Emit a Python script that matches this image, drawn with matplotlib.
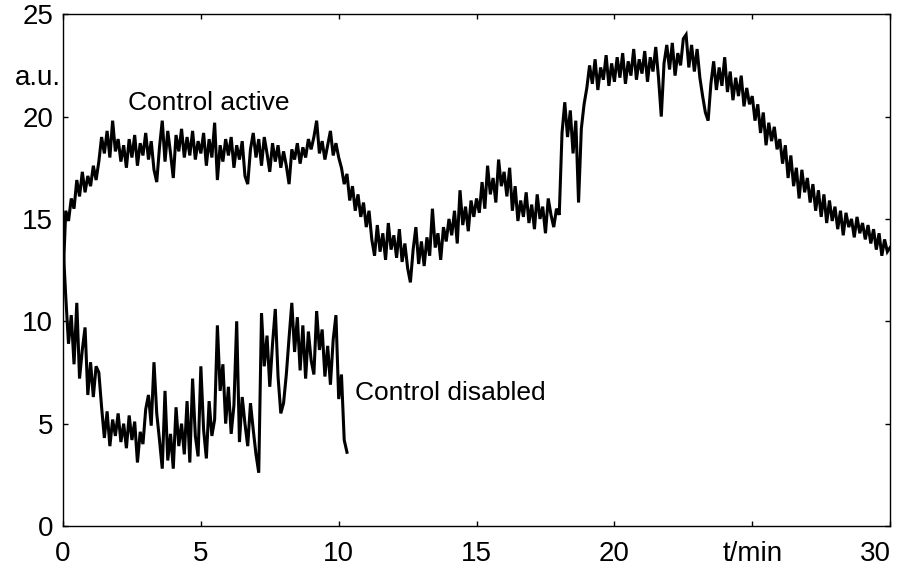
import numpy as np
import matplotlib
matplotlib.use("Agg")
import matplotlib.pyplot as plt
from matplotlib.transforms import blended_transform_factory, ScaledTranslation

# readings, one sample every 0.1 min
active_step = 0.1
active_vals = [
    12.0, 15.4, 14.9, 16.0, 15.5, 16.9, 16.1, 17.3, 16.3, 17.1,
    16.6, 17.6, 16.9, 17.8, 19.0, 18.2, 19.3, 18.0, 19.8, 18.3,
    18.9, 17.8, 18.6, 17.5, 18.9, 18.0, 19.1, 17.6, 18.7, 18.1,
    19.2, 17.9, 18.8, 17.4, 16.8, 18.5, 19.8, 17.8, 19.3, 18.2,
    17.0, 19.1, 18.3, 19.4, 18.0, 19.0, 18.1, 19.3, 17.9, 18.8,
    18.2, 19.2, 17.6, 18.9, 18.0, 19.7, 16.9, 18.6, 17.8, 18.9,
    18.1, 19.0, 17.5, 18.6, 17.9, 18.8, 17.1, 16.7, 18.4, 19.2,
    18.0, 18.9, 17.6, 19.0, 18.2, 17.3, 18.7, 17.8, 18.6, 17.5,
    18.3, 17.6, 16.7, 18.4, 17.9, 18.7, 17.7, 18.5, 18.0, 18.9,
    18.4, 19.0, 19.8, 18.2, 18.8, 17.9, 18.6, 19.3, 18.1, 18.7,
    18.0, 17.5, 16.7, 17.2, 15.9, 16.6, 15.4, 16.2, 15.1, 15.8,
    14.6, 15.4, 14.0, 13.2, 14.7, 13.4, 14.3, 13.0, 14.8, 13.5,
    14.2, 13.1, 14.5, 12.9, 13.8, 12.6, 11.9, 13.5, 14.6, 12.8,
    13.9, 12.7, 14.1, 13.2, 15.5, 13.6, 14.3, 13.0, 14.6, 13.9,
    15.0, 14.2, 15.4, 13.8, 16.4, 14.7, 15.6, 14.4, 15.9, 15.1,
    16.0, 15.3, 16.8, 15.5, 17.6, 16.2, 17.0, 15.8, 17.9, 16.6,
    17.3, 16.1, 17.5, 15.4, 16.6, 14.9, 15.9, 15.1, 16.3, 14.8,
    15.7, 14.5, 16.2, 15.0, 15.6, 14.3, 16.0, 15.2, 14.6, 15.5,
    15.2, 19.2, 20.7, 19.0, 20.3, 18.2, 19.8, 15.8, 19.4, 20.6,
    21.4, 22.5, 21.6, 22.8, 21.3, 22.4, 21.8, 23.0, 21.5, 22.6,
    21.7, 22.9, 21.9, 23.1, 21.6, 22.7, 22.0, 23.3, 21.8, 22.8,
    22.1, 23.2, 21.7, 22.9, 22.2, 23.4, 21.9, 20.0, 22.6, 23.5,
    22.3, 23.6, 22.0, 23.1, 22.5, 23.8, 24.0, 22.4, 23.5, 22.2,
    23.3, 21.9, 21.0, 20.2, 19.8, 21.6, 22.7, 21.3, 22.4, 21.5,
    22.9, 21.2, 22.2, 20.8, 21.9, 21.0, 22.0, 20.5, 21.4, 20.6,
    21.0, 19.8, 20.6, 19.2, 20.2, 18.6, 19.7, 18.8, 19.5, 18.4,
    18.9, 17.7, 18.6, 17.0, 18.1, 16.6, 17.5, 16.0, 17.4, 16.3,
    17.0, 15.8, 16.7, 15.4, 16.4, 15.1, 16.2, 14.8, 15.9, 14.9,
    15.6, 14.5, 15.4, 14.2, 15.3, 14.6, 15.0, 14.1, 15.1, 14.3,
    14.8, 14.0, 14.7, 13.8, 14.5, 13.5, 14.3, 13.2, 14.0, 13.4,
    13.6,
]

disabled_step = 0.1
disabled_vals = [
    13.8, 11.2, 8.9, 10.3, 7.9, 10.9, 7.2, 8.6, 9.7, 6.4,
    8.0, 6.3, 7.8, 7.5, 5.8, 4.3, 5.6, 3.9, 5.2, 4.4,
    5.5, 4.1, 5.0, 3.8, 5.4, 4.2, 5.1, 3.1, 4.6, 4.0,
    5.7, 6.4, 4.9, 8.0, 5.5, 4.2, 2.8, 6.6, 3.2, 4.5,
    2.8, 5.8, 3.9, 5.0, 3.5, 6.1, 3.1, 7.2, 4.4, 3.4,
    7.8, 4.7, 3.3, 6.1, 4.4, 5.2, 9.8, 6.6, 7.9, 5.0,
    6.8, 4.5, 5.9, 10.0, 4.1, 6.3, 5.0, 3.9, 6.0, 4.7,
    3.5, 2.6, 10.4, 7.8, 9.3, 6.8, 8.9, 10.6, 7.3, 5.5,
    6.0, 7.4, 9.2, 10.9, 8.5, 10.2, 7.6, 9.8, 7.2, 9.5,
    8.1, 7.4, 10.5, 8.6, 9.6, 7.3, 8.8, 6.9, 9.1, 10.3,
    6.2, 7.4, 4.2, 3.6,
]

x_ticks = [0, 5, 10, 15, 20, 25, 30]
x_labels = ["0", "5", "10", "15", "20", "t/min", "30"]
y_ticks = [0, 5, 10, 15, 20, 25]

plt.rcParams["font.family"] = ["Liberation Sans", "DejaVu Sans"]

fig = plt.figure(figsize=(9, 5.69), dpi=100)
ax = fig.add_axes([0.07, 0.0756, 0.919, 0.8994])

t_active = np.arange(len(active_vals)) * active_step
t_disabled = np.arange(len(disabled_vals)) * disabled_step
ax.plot(t_active, active_vals, color="black", lw=2.2, solid_joinstyle="miter")
ax.plot(t_disabled, disabled_vals, color="black", lw=2.2, solid_joinstyle="miter")

ax.set_xlim(0, 30)
ax.set_ylim(0, 25)
ax.set_xticks(x_ticks)
ax.set_xticklabels(x_labels)
ax.set_yticks(y_ticks)
ax.tick_params(direction="in", top=True, right=True, length=3.4, width=1,
               labelsize=20)
ax.tick_params(axis="x", pad=11)
ax.tick_params(axis="y", pad=7)
for sp in ax.spines.values():
    sp.set_linewidth(1)

# last x label sits inside the figure edge, shifted left like the original
last = ax.get_xticklabels()[-1]
last.set_transform(last.get_transform() + ScaledTranslation(-15 / 100, 0, fig.dpi_scale_trans))

ax.text(2.36, 20.3, "Control active", fontsize=19, ha="left", va="baseline")
ax.text(10.6, 6.15, "Control disabled", fontsize=19, ha="left", va="baseline")
trans = blended_transform_factory(ax.transAxes, ax.transData)
ax.text(-0.003, 21.9, "a.u.", transform=trans, fontsize=20, ha="right",
        va="center")

fig.savefig("out.png", dpi=100)
